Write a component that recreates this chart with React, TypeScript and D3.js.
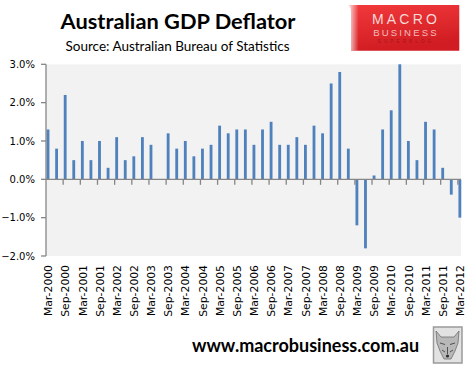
import React from "react";
import * as d3 from "d3";

// Quarterly GDP deflator growth, % q/q
const quarters = [
  "Mar-2000", "Jun-2000", "Sep-2000", "Dec-2000",
  "Mar-2001", "Jun-2001", "Sep-2001", "Dec-2001",
  "Mar-2002", "Jun-2002", "Sep-2002", "Dec-2002",
  "Mar-2003", "Jun-2003", "Sep-2003", "Dec-2003",
  "Mar-2004", "Jun-2004", "Sep-2004", "Dec-2004",
  "Mar-2005", "Jun-2005", "Sep-2005", "Dec-2005",
  "Mar-2006", "Jun-2006", "Sep-2006", "Dec-2006",
  "Mar-2007", "Jun-2007", "Sep-2007", "Dec-2007",
  "Mar-2008", "Jun-2008", "Sep-2008", "Dec-2008",
  "Mar-2009", "Jun-2009", "Sep-2009", "Dec-2009",
  "Mar-2010", "Jun-2010", "Sep-2010", "Dec-2010",
  "Mar-2011", "Jun-2011", "Sep-2011", "Dec-2011",
  "Mar-2012",
];

const deflator = [
  1.3, 0.8, 2.2, 0.5,
  1.0, 0.5, 1.0, 0.3,
  1.1, 0.5, 0.6, 1.1,
  0.9, 0.0, 1.2, 0.8,
  1.0, 0.6, 0.8, 0.9,
  1.4, 1.2, 1.3, 1.3,
  0.9, 1.3, 1.5, 0.9,
  0.9, 1.1, 0.9, 1.4,
  1.2, 2.5, 2.8, 0.8,
  -1.2, -1.8, 0.1, 1.3,
  1.8, 3.0, 1.0, 0.5,
  1.5, 1.3, 0.3, -0.4,
  -1.0,
];

const yTicks = [-2, -1, 0, 1, 2, 3];

const W = 474;
const H = 368;
const left = 46;
const plotRight = 461;
const top = 64.3;
const bottom = 256;
const band = 8.58;

const x = d3
  .scaleBand<string>()
  .domain(quarters)
  .range([left, left + quarters.length * band])
  .paddingInner(0)
  .paddingOuter(0);

const y = d3.scaleLinear().domain([-2, 3]).range([bottom, top]);

const fmt = d3.format(".1f");

const App = () => {
  const bw = x.bandwidth();
  const barW = bw * 0.33;
  const barOff = bw * 0.07;
  const y0 = y(0);

  return (
    <svg
      width={W}
      height={H}
      style={{ position: "absolute", left: 0, top: 0, display: "block" }}
      fontFamily="'DejaVu Sans', sans-serif"
    >
      <defs>
        <linearGradient id="logoRed" x1="0" y1="0" x2="0.3" y2="1">
          <stop offset="0" stopColor="#f23a3c" />
          <stop offset="1" stopColor="#d01c22" />
        </linearGradient>
        <linearGradient id="curl" x1="0" y1="0" x2="1" y2="0">
          <stop offset="0" stopColor="#ffffff" stopOpacity="1" />
          <stop offset="1" stopColor="#ffffff" stopOpacity="0" />
        </linearGradient>
      </defs>
      <rect width={W} height={H} fill="#ffffff" />

      {/* titles */}
      <text
        x={178}
        y={29}
        textAnchor="middle"
        fontFamily="Lato, 'Open Sans', sans-serif"
        fontWeight="bold"
        fontSize={21.8}
        fill="#000"
      >
        Australian GDP Deflator
      </text>
      <text
        x={177.5}
        y={50.5}
        textAnchor="middle"
        fontFamily="Lato, 'Open Sans', sans-serif"
        fontSize={13.5}
        fill="#000"
      >
        Source: Australian Bureau of Statistics
      </text>

      {/* logo */}
      <g>
        <path d="M350,5 H459.3 V50.7 H351 V12 Q351,5 346.7,5 Z" fill="url(#logoRed)" />
        <rect x={346.7} y={5} width={12} height={45.7} fill="url(#curl)" />
        <text x={406} y={24} textAnchor="middle" fontSize={14} letterSpacing={3.2} fill="#f7d9d9"
          fontFamily="'Liberation Sans', Arial, sans-serif">MACRO</text>
        <text x={406} y={35.6} textAnchor="middle" fontSize={9.6} letterSpacing={2.1} fill="#f3bcbc"
          fontFamily="'Liberation Sans', Arial, sans-serif">BUSINESS</text>
        <text x={406} y={42.6} textAnchor="middle" fontSize={4.6} letterSpacing={3.1} fill="#a81418"
          fontFamily="'Liberation Sans', Arial, sans-serif">SUPERBLOG</text>
      </g>

      {/* plot area */}
      <rect x={left} y={top} width={plotRight - left} height={bottom - top} fill="#f2f2f2" />

      {/* bars */}
      {deflator.map((v, i) => (
        <rect
          key={quarters[i]}
          x={(x(quarters[i]) as number) + barOff}
          y={Math.min(y(v), y0)}
          width={barW}
          height={Math.abs(y(v) - y0)}
          fill="#4f81bd"
        />
      ))}

      {/* y axis */}
      <line x1={left} x2={left} y1={top} y2={bottom} stroke="#868686" strokeWidth={1.3} />
      {yTicks.map((t) => (
        <g key={t}>
          <line x1={left - 5} x2={left} y1={y(t)} y2={y(t)} stroke="#868686" strokeWidth={1.3} />
          <text x={35} y={y(t)} dy="0.36em" textAnchor="end" fontSize={10} fill="#000">
            {fmt(t)}%
          </text>
        </g>
      ))}

      {/* x axis at zero */}
      <line x1={left} x2={plotRight} y1={y0} y2={y0} stroke="#868686" strokeWidth={1.3} />
      {quarters.map((q, i) =>
        i % 2 === 0 && i > 0 ? (
          <line
            key={"t" + q}
            x1={x(q) as number}
            x2={x(q) as number}
            y1={y0}
            y2={y0 + 5.5}
            stroke="#868686"
            strokeWidth={1.3}
          />
        ) : null
      )}
      {quarters.map((q, i) =>
        i % 2 === 0 ? (
          <text
            key={"l" + q}
            transform={`translate(${(x(q) as number) + bw * 0.27},265) rotate(-90)`}
            dy="0.36em"
            textAnchor="end"
            fontSize={10.8}
            fill="#000"
          >
            {q}
          </text>
        ) : null
      )}

      {/* footer */}
      <text
        x={305.5}
        y={352}
        textAnchor="middle"
        fontFamily="Lato, 'Open Sans', sans-serif"
        fontWeight="bold"
        fontSize={18}
        fill="#000"
      >
        www.macrobusiness.com.au
      </text>

      {/* wolf badge */}
      <g>
        <rect x={433.5} y={327} width={28.5} height={36} fill="#e2e2e2" stroke="#9a9a9a" strokeWidth={1.5} />
        <path
          d="M436,331 L441,337 L454,337 L459,331 L458,343 L455,351 L451,359 L444,359 L440,351 L437,343 Z"
          fill="#b8b8b8"
          stroke="#6f6f6f"
          strokeWidth={0.8}
        />
        <path
          d="M440,343 L445,344.5 M450,344.5 L455,343 M447.5,347 L447.5,354 M442,350 L445,352 M453,350 L450,352"
          stroke="#444"
          strokeWidth={0.9}
          fill="none"
        />
        <circle cx={447.5} cy={356} r={1.6} fill="#2e2e2e" />
      </g>
    </svg>
  );
};

export default App;
